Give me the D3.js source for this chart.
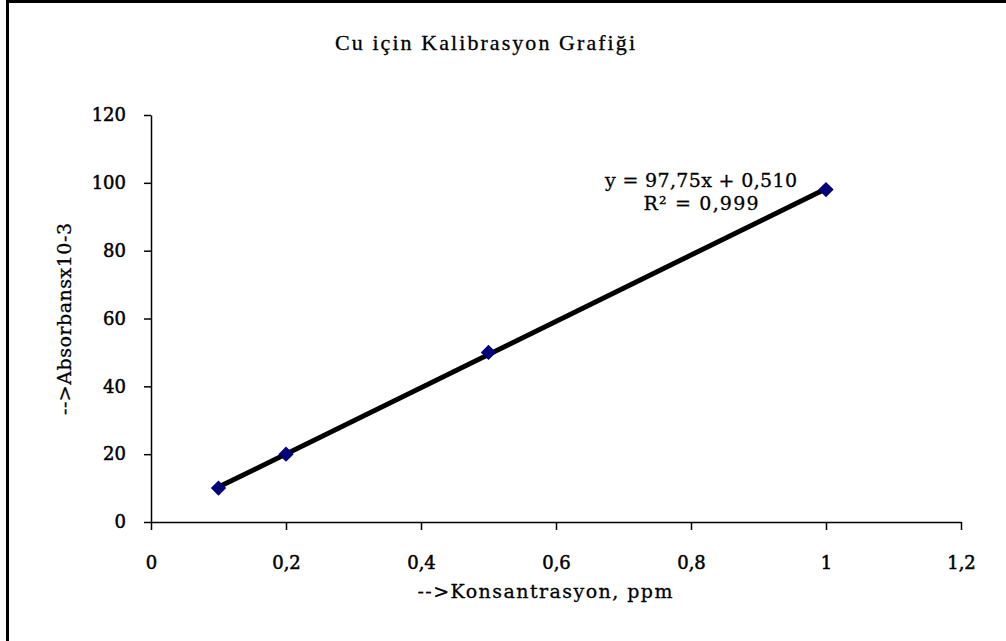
<!DOCTYPE html>
<html>
<head>
<meta charset="utf-8">
<script src="https://cdn.jsdelivr.net/npm/d3@7"></script>
<style>
  body { margin: 0; background: #fff; }
  text { font-family: "DejaVu Serif", serif; }
</style>
</head>
<body>
<div id="chart"></div>
<script>
// data
var concentrations = [0.1, 0.2, 0.5, 1];
var absorbances = [10, 20, 50, 98];
var xTicks = [0, 0.2, 0.4, 0.6, 0.8, 1, 1.2];
var yTicks = [0, 20, 40, 60, 80, 100, 120];
var trendSlope = 97.75, trendIntercept = 0.510;
var equationLines = ["y = 97,75x + 0,510", "R\u00b2 = 0,999"];
var title = "Cu için Kalibrasyon Grafiği";
var xTitle = "-->Konsantrasyon, ppm";
var yTitle = "-->Absorbansx10-3";

var width = 1006, height = 641;
var margin = {top: 115, right: 45, bottom: 119, left: 151};

var svg = d3.select("#chart")
  .append("svg")
    .attr("width", width)
    .attr("height", height);

// outer frame (only the top and left edges show)
svg.append("rect")
  .attr("x", 7.5).attr("y", 1.5)
  .attr("width", width + 20).attr("height", height + 20)
  .attr("fill", "none")
  .attr("stroke", "#000")
  .attr("stroke-width", 3);

var g = svg.append("g")
  .attr("transform", "translate(" + margin.left + "," + margin.top + ")");

var w = width - margin.left - margin.right,
    h = height - margin.top - margin.bottom;

var x = d3.scaleLinear().domain([0, 1.2]).range([0, w]);
var y = d3.scaleLinear().domain([0, 120]).range([h, 0]);

var fmt = function(d) { return String(d).replace(".", ","); };

// X axis
var xAxis = g.append("g")
  .attr("transform", "translate(0," + h + ")")
  .call(d3.axisBottom(x).tickValues(xTicks).tickFormat(fmt).tickSize(8).tickSizeOuter(0));
xAxis.selectAll("text")
  .attr("dy", "0")
  .attr("y", 47);

// Y axis
var yAxis = g.append("g")
  .call(d3.axisLeft(y).tickValues(yTicks).tickFormat(fmt).tickSize(7).tickSizeOuter(0));
yAxis.selectAll("text")
  .attr("x", -25);

g.selectAll(".tick text")
  .style("font-size", "18px")
  .style("font-family", "'DejaVu Serif', serif")
  .attr("fill", "#000")
  .attr("stroke", "#000")
  .attr("stroke-width", 0.5);

g.selectAll(".domain, .tick line")
  .attr("stroke", "#000")
  .attr("stroke-width", 1.5);

// trend line
var xMin = d3.min(concentrations), xMax = d3.max(concentrations);
g.append("line")
  .attr("x1", x(xMin)).attr("y1", y(trendSlope * xMin + trendIntercept))
  .attr("x2", x(xMax)).attr("y2", y(trendSlope * xMax + trendIntercept))
  .attr("stroke", "#000")
  .attr("stroke-width", 5);

// data points
var data = concentrations.map(function(c, i) { return {x: c, y: absorbances[i]}; });
g.selectAll("path.pt")
  .data(data)
  .enter()
  .append("path")
    .attr("class", "pt")
    .attr("d", d3.symbol().type(d3.symbolDiamond2).size(150))
    .attr("transform", function(d) { return "translate(" + x(d.x) + "," + y(d.y) + ")"; })
    .attr("fill", "#00007a");

// equation label
var eqX = 701, eqWidths = [192, 115];
svg.selectAll("text.eq")
  .data(equationLines)
  .enter()
  .append("text")
    .attr("class", "eq")
    .attr("x", eqX)
    .attr("y", function(d, i) { return 187 + i * 23; })
    .attr("text-anchor", "middle")
    .attr("textLength", function(d, i) { return eqWidths[i]; })
    .attr("lengthAdjust", "spacing")
    .style("font-size", "19px")
    .attr("stroke", "#000")
    .attr("stroke-width", 0.3)
    .text(function(d) { return d; });

// chart title
svg.append("text")
  .attr("x", 485).attr("y", 50)
  .attr("text-anchor", "middle")
  .attr("textLength", 300)
  .attr("lengthAdjust", "spacing")
  .style("font-family", "'Liberation Serif', serif")
  .style("font-size", "22px")
  .attr("stroke", "#000")
  .attr("stroke-width", 0.3)
  .text(title);

// axis titles
svg.append("text")
  .attr("x", 545).attr("y", 598)
  .attr("text-anchor", "middle")
  .attr("textLength", 255)
  .attr("lengthAdjust", "spacing")
  .style("font-size", "19px")
  .attr("stroke", "#000")
  .attr("stroke-width", 0.3)
  .text(xTitle);

svg.append("text")
  .attr("transform", "translate(71,319) rotate(-90)")
  .attr("text-anchor", "middle")
  .attr("textLength", 192)
  .attr("lengthAdjust", "spacing")
  .style("font-size", "19px")
  .attr("stroke", "#000")
  .attr("stroke-width", 0.3)
  .text(yTitle);
</script>
</body>
</html>
